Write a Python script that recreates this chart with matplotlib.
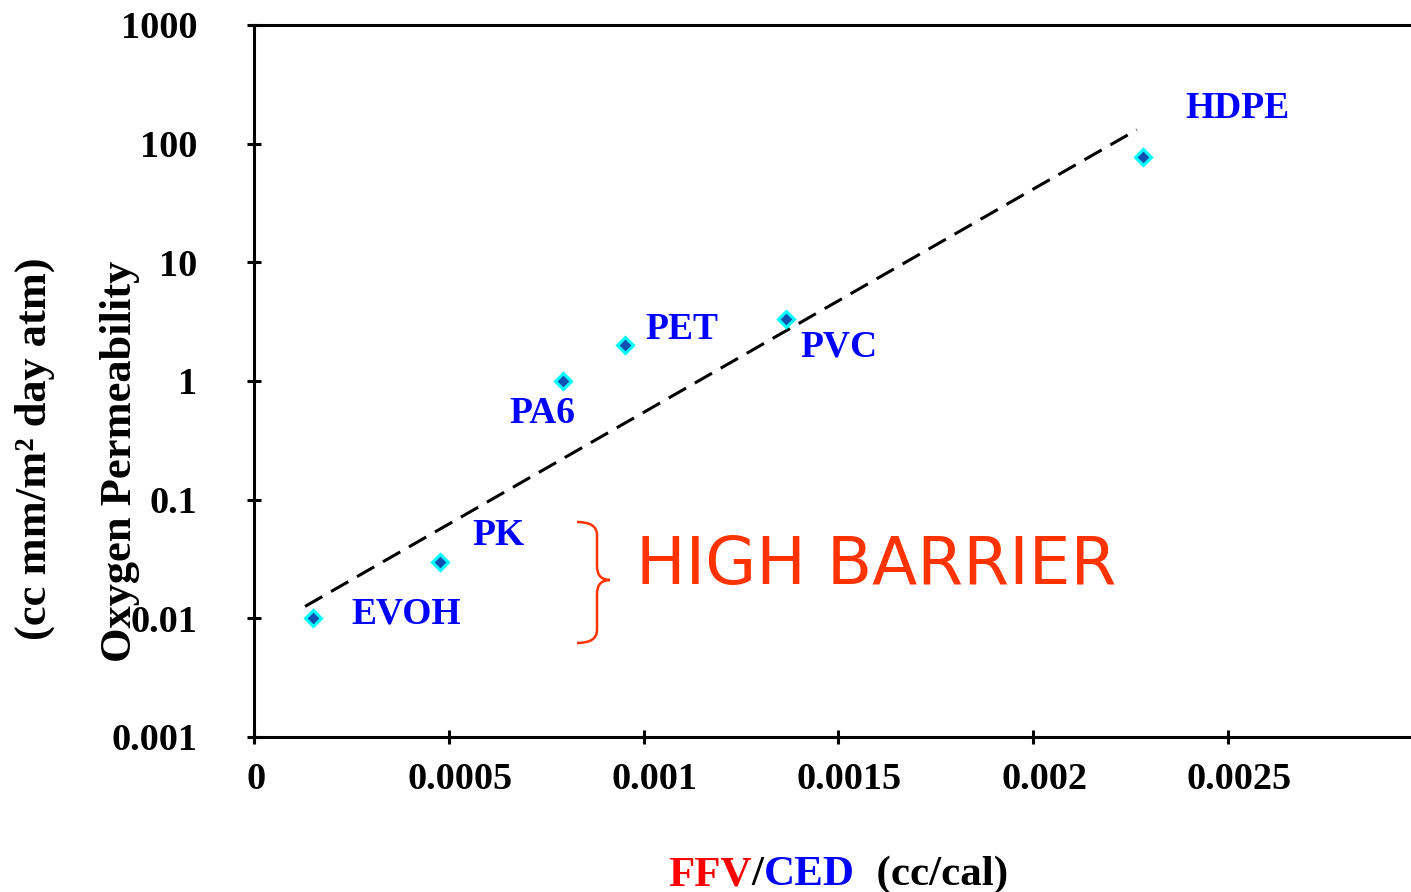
import numpy as np
import matplotlib
matplotlib.use('Agg')
import matplotlib.pyplot as plt
from matplotlib.path import Path
from matplotlib.patches import PathPatch
from matplotlib.transforms import ScaledTranslation

# data
POLYMERS = ['EVOH', 'PK', 'PA6', 'PET', 'PVC', 'HDPE']
FFV_CED = [0.000151, 0.000477, 0.000793, 0.000952, 0.001365, 0.002282]
O2_PERM = [0.01, 0.03, 1.0, 2.0, 3.3, 77.0]
# ends of the exponential trend line
TREND_X = [0.000131, 0.002266]
TREND_Y = [0.0126, 131.0]

X_TICKS = [0, 0.0005, 0.001, 0.0015, 0.002, 0.0025]
X_TICKLABELS = ['0', '0.0005', '0.001', '0.0015', '0.002', '0.0025']
Y_TICKS = [0.001, 0.01, 0.1, 1, 10, 100, 1000]
Y_TICKLABELS = ['0.001', '0.01', '0.1', '1', '10', '100', '1000']

# label offsets from each point (pixels)
LABEL_OFFSETS = [(39, -5), (33, 17), (-54, -42), (20, 6), (15, -37), (42, 39)]

W, H = 1411, 892
SERIF = 'Liberation Serif'
BLUE = '#0000FF'
ORANGE = '#FF3300'

fig = plt.figure(figsize=(W / 100, H / 100), dpi=100)
ax = fig.add_axes([254 / W, 1 - 737 / H, (W - 254) / W, 712 / H])

ax.set_yscale('log')
ax.set_ylim(0.001, 1000)
ax.set_xlim(0, (W - 254) / 389.6 * 0.001)

ax.plot(TREND_X, TREND_Y, color='black', lw=2.2, ls=(0, (6.5, 3.3)))
ax.plot(FFV_CED, O2_PERM, ls='none', marker='D', ms=8,
        mfc='#1050B0', mec='#00FFFF', mew=2.2, zorder=3)

for name, x, y, (dx, dy) in zip(POLYMERS, FFV_CED, O2_PERM, LABEL_OFFSETS):
    ax.annotate(name, xy=(x, y), xytext=(dx, dy), textcoords='offset pixels',
                ha='left', va='baseline', color=BLUE, fontsize=27,
                fontweight='bold', family=SERIF)

ax.set_xticks(X_TICKS)
ax.set_xticklabels(X_TICKLABELS)
ax.set_yticks(Y_TICKS)
ax.set_yticklabels(Y_TICKLABELS)
ax.minorticks_off()
ax.tick_params(axis='both', direction='inout', length=10, width=2.2,
               labelsize=27.5)
ax.tick_params(axis='y', pad=36)
ax.tick_params(axis='x', pad=13)
for lbl in ax.get_xticklabels() + ax.get_yticklabels():
    lbl.set_fontfamily(SERIF)
    lbl.set_fontweight('bold')
for i, lbl in enumerate(ax.get_xticklabels()):
    dx = 2 if i == 0 else 11
    lbl.set_transform(lbl.get_transform() +
                      ScaledTranslation(dx / 100, 0, fig.dpi_scale_trans))

for side in ['left', 'bottom', 'top']:
    ax.spines[side].set_linewidth(2.2)
ax.spines['right'].set_visible(False)

# curly brace beside the high barrier group (pixel coords)
def px(x, y):
    return (x / W, 1 - y / H)

verts = [px(577, 522), px(597, 522), px(597, 535), px(597, 548),
         px(597, 566), px(597, 580), px(610, 580),
         px(597, 580), px(597, 594), px(597, 612),
         px(597, 630), px(597, 643), px(577, 643)]
codes = [Path.MOVETO, Path.CURVE3, Path.CURVE3, Path.LINETO,
         Path.LINETO, Path.CURVE3, Path.CURVE3,
         Path.CURVE3, Path.CURVE3, Path.LINETO,
         Path.LINETO, Path.CURVE3, Path.CURVE3]
fig.patches.append(PathPatch(Path(verts, codes), transform=fig.transFigure,
                             fill=False, ec=ORANGE, lw=1.8))
fig.text(636 / W, 1 - 566 / H, 'HIGH BARRIER', color=ORANGE, fontsize=47.5,
         family='DejaVu Sans', ha='left', va='center')

# y axis title (two lines)
fig.text(120 / W, 1 - 461 / H, 'Oxygen Permeability', rotation=90,
         ha='center', va='center', fontsize=32, fontweight='bold', family=SERIF)
fig.text(35 / W, 1 - 449 / H, '(cc mm/m² day atm)', rotation=90,
         ha='center', va='center', fontsize=32, fontweight='bold', family=SERIF)

# x axis title in colored pieces
pieces = [('FFV', '#FF0000'), ('/', 'black'), ('CED', BLUE), ('  (cc/cal)', 'black')]
fig.canvas.draw()
renderer = fig.canvas.get_renderer()
x0 = 668
for txt, col in pieces:
    t = fig.text(x0 / W, 1 - 885 / H, txt, color=col, fontsize=31,
                 fontweight='bold', family=SERIF, ha='left', va='baseline')
    bb = t.get_window_extent(renderer)
    x0 += bb.width

fig.savefig('out.png', dpi=100)
